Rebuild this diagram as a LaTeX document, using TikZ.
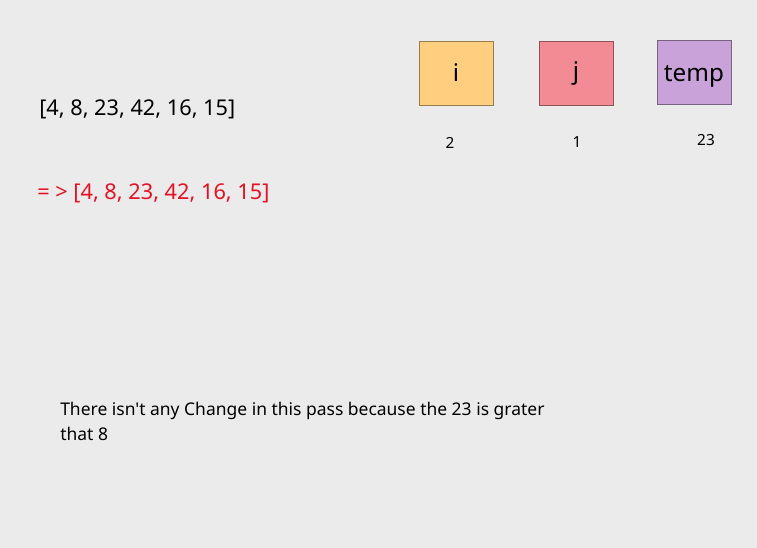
\documentclass[tikz,border=0pt]{standalone}
\usepackage{fontspec}
\setmainfont{Noto Sans}[Ligatures=TeXOff]
\definecolor{bgpaper}{RGB}{235,235,235}
\definecolor{boxorange}{RGB}{255,207,127}
\definecolor{boxpink}{RGB}{242,139,147}
\definecolor{boxpurple}{RGB}{200,162,216}
\definecolor{passred}{RGB}{232,17,35}
\usetikzlibrary{positioning}
\tikzset{
  varbox/.style={draw=#1!60!black, fill=#1, line width=0.6pt, minimum width=55.5pt, minimum height=48pt, inner sep=0pt, font=\fontsize{18.2}{21}\selectfont},
  varval/.style={font=\fontsize{11.5}{13}\selectfont, inner sep=0pt},
  listtext/.style={font=\fontsize{16.3}{19}\selectfont, anchor=west, inner sep=0pt}
}
\begin{document}
\begin{tikzpicture}[x=0.75pt, y=-0.75pt]
  \fill[bgpaper] (0,0) rectangle (757,548);
  \useasboundingbox (0,0) rectangle (757,548);

  %% Variables (top right)
  \node[varbox=boxorange] (vari) at (456,73) {i};
  \node[varbox=boxpink] (varj) at (576,73) {j};
  \node[varbox=boxpurple] (vartemp) at (694,72) {\raisebox{-3pt}[\height][\depth]{temp}};

  \node[varval] (vali) at (450,143) {2};
  \node[varval] (valj) at (577,142) {1};
  \node[varval] (valtemp) at (706,140) {23};

  %% Array before and after the pass
  \node[listtext] (before) at (39,109) {[4, 8, 23, 42, 16, 15]};
  \node[listtext, text=passred] (after) at (37,193) {= > [4, 8, 23, 42, 16, 15]};

  %% Note
  \node[anchor=north west, align=left, inner sep=0pt, font=\fontsize{13.1}{18.75}\selectfont] (note) at (60,402) {There isn't any Change in this pass because the 23 is grater\\that 8};
\end{tikzpicture}
\end{document}
